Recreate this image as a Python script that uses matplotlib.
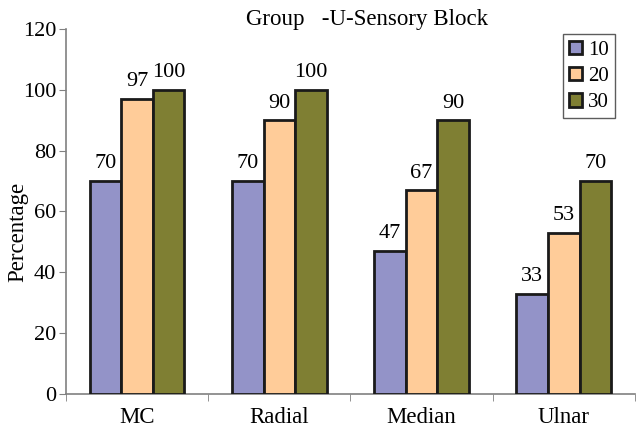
import matplotlib
matplotlib.use("Agg")
import matplotlib.pyplot as plt
import numpy as np

categories = ["MC", "Radial", "Median", "Ulnar"]
series_names = ["10", "20", "30"]
s10 = [70, 70, 47, 33]
s20 = [97, 90, 67, 53]
s30 = [100, 100, 90, 70]
colors = ["#9393C8", "#FFCC99", "#7F7F33"]

plt.rcParams['font.family'] = ['Liberation Serif', 'DejaVu Serif']

fig = plt.figure(figsize=(6.36, 4.28), dpi=100)
ax = fig.add_axes([0.1038, 0.0794, 0.8945, 0.853])

x = np.arange(len(categories))
w = 0.222
for i, (vals, name, c) in enumerate(zip([s10, s20, s30], series_names, colors)):
    pos = x + (i - 1) * w
    ax.bar(pos, vals, w, color=c, edgecolor="#1a1a1a", linewidth=2, label=name, zorder=3)
    for p, v in zip(pos, vals):
        ax.text(p, v + 2.5, str(v), ha="center", va="bottom", fontsize=16)

ax.set_xlim(-0.5, len(categories) - 0.5)
ax.set_ylim(0, 120)
ax.set_yticks(range(0, 121, 20))
ax.set_xticks(x)
ax.set_xticklabels(categories, fontsize=16.5)
ax.tick_params(axis="x", length=0, pad=9)
ax.set_xticks(np.arange(-0.5, len(categories)), minor=True)
ax.tick_params(axis="x", which="minor", length=5, color="#808080")
ax.tick_params(axis="y", labelsize=16, length=5, color="#808080", pad=2)
for s in ["top", "right"]:
    ax.spines[s].set_visible(False)
for s in ["left", "bottom"]:
    ax.spines[s].set_color("#808080")
    ax.spines[s].set_linewidth(1.2)

fig.text(18 / 636, 1 - 232 / 428, "Percentage", rotation=90, ha="center", va="center", fontsize=16.5)
fig.text(367 / 636, 1 - 20 / 428, "Group   -U-Sensory Block", ha="center", va="center", fontsize=16.5)

leg = ax.legend(loc="upper right", bbox_to_anchor=(0.9655, 0.985),
                fontsize=15, frameon=True, fancybox=False, edgecolor="#333333",
                handlelength=0.6, handleheight=0.6, handletextpad=0.3, borderpad=0.3,
                labelspacing=0.35, borderaxespad=0)
leg.get_frame().set_linewidth(1.0)

fig.savefig("out.png", dpi=100)
